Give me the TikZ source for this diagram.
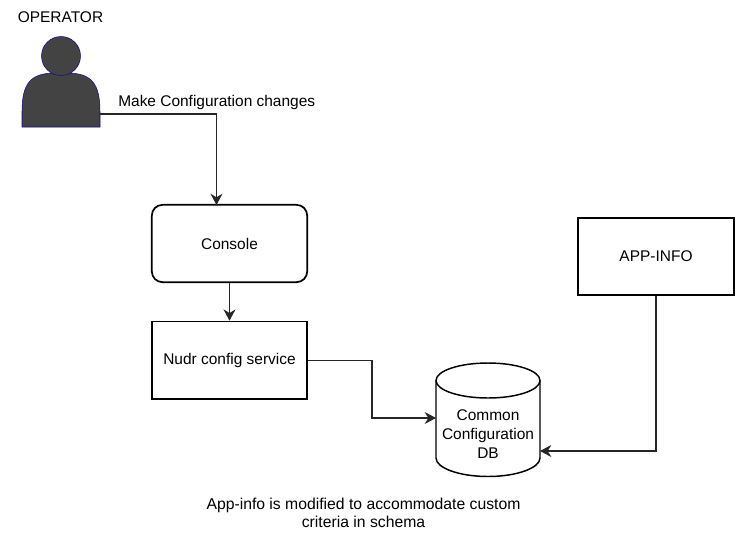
\documentclass[tikz,border=0pt]{standalone}
\usepackage{fontspec}
\setmainfont{Liberation Sans}
\usepackage{tikz}
\usetikzlibrary{arrows.meta, positioning}
\definecolor{personGray}{RGB}{67, 67, 67}
\definecolor{personBlue}{RGB}{20, 10, 140}
\tikzset{
  flow/.style={
    -{Stealth[length=8.5pt, width=9pt]},
    line width=0.85pt,
    draw=black!85
  },
  boxnode/.style={
    draw=black,
    line width=1.3pt,
    minimum width=116.5pt,
    minimum height=58pt,
    inner sep=1pt,
    align=center
  },
  label/.style={
    inner sep=0pt,
    align=center
  },
  every node/.append style={font=\fontsize{11.6pt}{14.2pt}\selectfont}
}

\begin{document}
\begin{tikzpicture}[x=0.75pt, y=-0.75pt]
  \useasboundingbox (0,0) rectangle (752,543);

  % Operator figure
  \fill[personGray, draw=personBlue, line width=0.4pt]
    (22,127) -- (22,112) .. controls (22,84) and (30,73) .. (55,73)
    -- (67,73) .. controls (92,73) and (100,84) .. (100,112) -- (100,127) -- cycle;
  \fill[personGray, draw=personBlue, line width=0.4pt] (61,56) circle (19.5);

  \node[label] (operator) at (60.5,17) {OPERATOR};
  \node[label, anchor=west] (changes) at (118,102) {Make Configuration changes};

  % Boxes
  \node[boxnode, rounded corners=8pt] (console) at (229.5,243.5) {Console};
  \node[boxnode, below=28.25pt of console] (nudr) {Nudr config service};
  \node[boxnode] (appinfo) at (656,256.5) {APP-INFO};

  % Database drum
  \draw[line width=1.1pt]
    (436,380.5) -- (436,458) .. controls (436,468) and (459.3,476.5) .. (488,476.5)
    .. controls (516.7,476.5) and (540,468) .. (540,458) -- (540,380.5);
  \draw[line width=1.1pt] (436,380.5) .. controls (436,370.8) and (459.3,363) .. (488,363)
    .. controls (516.7,363) and (540,370.8) .. (540,380.5)
    .. controls (540,390.2) and (516.7,398) .. (488,398)
    .. controls (459.3,398) and (436,390.2) .. (436,380.5) -- cycle;
  \node[label] (db) at (488,434) {Common\\Configuration\\DB};
  \node[label, font=\fontsize{11.8pt}{13.5pt}\selectfont] (caption) at (363.5,513) {App-info is modified to accommodate custom\\criteria in schema};

  % Connectors
  \coordinate (operatorout) at (100,114);
  \coordinate (consolein) at (216.5,205);
  \coordinate (nudrbend) at (372,400);
  \coordinate (dbleft) at (436,418);
  \coordinate (dbright) at (540,451);

  \draw[flow] (operatorout) -| (consolein);
  \draw[flow] (console) -- (nudr);
  \draw[flow] (nudr.east) -| (nudrbend) |- (dbleft);
  \draw[flow] (appinfo.south) |- (dbright);
\end{tikzpicture}
\end{document}
